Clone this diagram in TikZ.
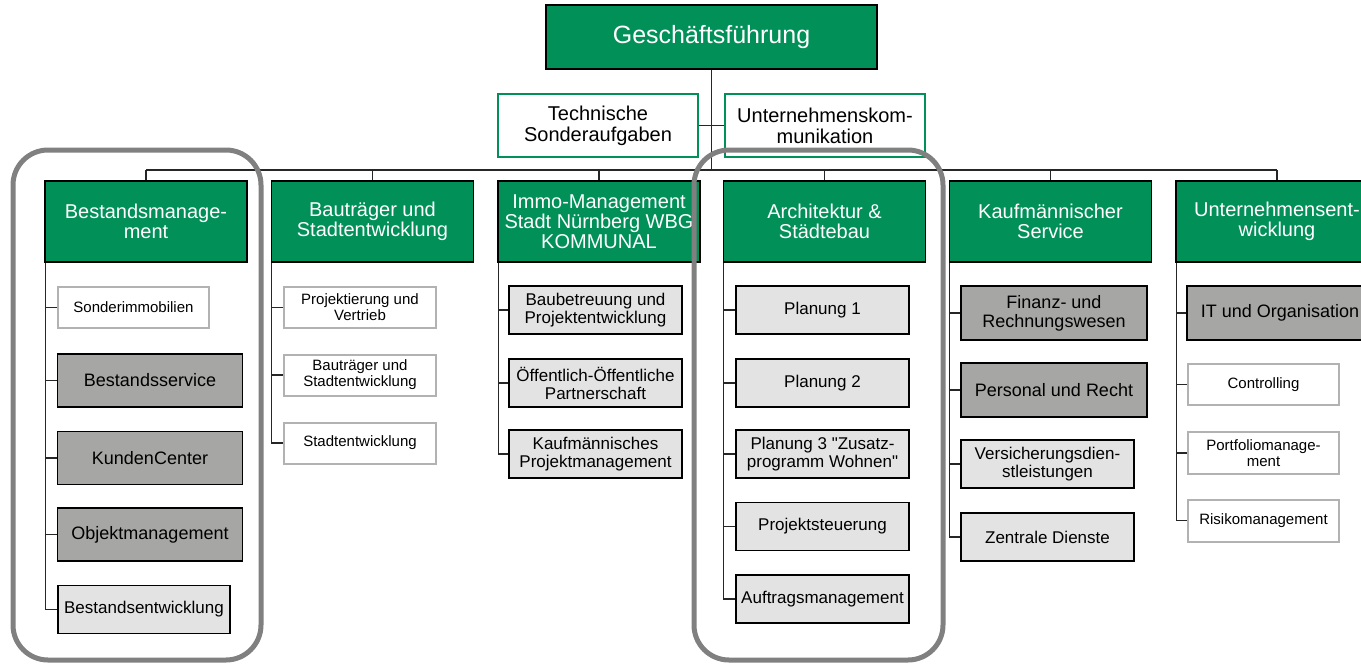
\documentclass[tikz,border=0pt]{standalone}
\usepackage{fontspec}
\setmainfont{Liberation Sans}[Ligatures=TeXOff]
\definecolor{gruen}{RGB}{0,144,88}
\definecolor{dunkelgrau}{RGB}{166,167,164}
\definecolor{hellgrau}{RGB}{227,227,227}
\definecolor{randgrau}{RGB}{178,178,178}
\definecolor{rahmengrau}{RGB}{128,128,128}
\tikzset{
  kasten/.style={draw, inner sep=0pt, align=center},
  chef/.style={kasten, fill=gruen, line width=1.2pt, text=white, minimum width=331, minimum height=64, font=\fontsize{25}{27}\selectfont},
  stab/.style={kasten, fill=white, draw=gruen, line width=1.6pt, minimum width=200, minimum height=63, font=\fontsize{20}{21}\selectfont},
  kopf/.style={kasten, fill=gruen, line width=1.2pt, text=white, minimum width=202, minimum height=81, font=\fontsize{20}{20}\selectfont},
  dunkel/.style={kasten, fill=dunkelgrau, line width=1.2pt, minimum width=185, minimum height=53, font=\fontsize{18}{19}\selectfont},
  hell/.style={kasten, fill=hellgrau, line width=1.2pt, minimum width=173, minimum height=48, font=\fontsize{17}{18}\selectfont},
  weiss/.style={kasten, fill=white, draw=randgrau, line width=2pt, minimum width=151, minimum height=41, font=\fontsize{15}{16}\selectfont},
  linie/.style={line width=1.1pt, black!85},
  rahmen/.style={line width=5pt, draw=rahmengrau, rounded corners=35pt}
}
\begin{document}
\begin{tikzpicture}[x=1pt, y=-1pt]
			%%%%% START %%%%%
			\useasboundingbox (0,0) rectangle (1361,665);
			
			\node[chef] (gf) at (711.5,37) {Geschäftsführung};
			\node[stab] (tech) at (598,125.5) {Technische\\Sonderaufgaben};
			\node[stab] (kom) at (825,125.5) {Unternehmenskom-\\munikation};
			\coordinate (bus) at (0,170);
			
			\node[kopf] (bm) at (146,221.5) {Bestandsmanage-\\ment};
			\node[kopf] (bt) at (372.5,221.5) {Bauträger und\\Stadtentwicklung};
			\node[kopf] (im) at (599,221.5) {Immo-Management\\Stadt Nürnberg WBG\\KOMMUNAL};
			\node[kopf] (ar) at (824.5,221.5) {Architektur \&\\Städtebau};
			\node[kopf] (ks) at (1050.5,221.5) {Kaufmännischer\\Service};
			\node[kopf] (ue) at (1277,221.5) {Unternehmensent-\\wicklung};
			
			% Bestandsmanagement
			\node[weiss] (bm1) at (133.5,307.5) {Sonderimmobilien};
			\node[dunkel] (bm2) at (150,380.5) {Bestandsservice};
			\node[dunkel] (bm3) at (150,458) {KundenCenter};
			\node[dunkel] (bm4) at (150,534.5) {Objektmanagement};
			\node[hell, minimum width=172] (bm5) at (144,609.5) {Bestandsentwicklung};
			
			% Bautraeger
			\node[weiss, minimum width=152] (bt1) at (360,307.5) {Projektierung und\\Vertrieb};
			\node[weiss, minimum width=152] (bt2) at (360,375) {Bauträger und\\Stadtentwicklung};
			\node[weiss, minimum width=152] (bt3) at (360,443) {Stadtentwicklung};
			
			% Immo-Management
			\node[hell] (im1) at (595.5,310) {Baubetreuung und\\Projektentwicklung};
			\node[hell] (im2) at (595.5,383) {Öffentlich-Öffentliche\\Partnerschaft};
			\node[hell] (im3) at (595.5,454) {Kaufmännisches\\Projektmanagement};
			
			% Architektur
			\node[hell] (ar1) at (822.5,310) {Planung 1};
			\node[hell] (ar2) at (822.5,383) {Planung 2};
			\node[hell] (ar3) at (822.5,454) {Planung 3 "Zusatz-\\programm Wohnen"};
			\node[hell] (ar4) at (822.5,526.5) {Projektsteuerung};
			\node[hell] (ar5) at (822.5,599) {Auftragsmanagement};
			
			% Kaufmaennischer Service
			\node[dunkel, minimum width=186, minimum height=54] (ks1) at (1054,313) {Finanz- und\\Rechnungswesen};
			\node[dunkel, minimum width=186, minimum height=54] (ks2) at (1054,390) {Personal und Recht};
			\node[hell] (ks3) at (1047.5,464) {Versicherungsdien-\\stleistungen};
			\node[hell] (ks4) at (1047.5,537) {Zentrale Dienste};
			
			% Unternehmensentwicklung
			\node[dunkel, minimum width=186, minimum height=54] (ue1) at (1280,313) {IT und Organisation};
			\node[weiss] (ue2) at (1263.5,384.5) {Controlling};
			\node[weiss, minimum height=42] (ue3) at (1263.5,453) {Portfoliomanage-\\ment};
			\node[weiss, minimum height=42] (ue4) at (1263.5,520.5) {Risikomanagement};
			
			% Verbindungen
			\draw[linie] (gf.south) -- (gf.south |- bus);
			\draw[linie] (tech.east) -- (kom.west);
			\draw[linie] (bm.north |- bus) -- (ue.north |- bus);
			\foreach \k in {bm,bt,im,ar,ks,ue}
				\draw[linie] (\k.north) -- (\k.north |- bus);
			
			\draw[linie] ([xshift=1pt]bm.south west) |- (bm5.west);
			\foreach \c in {bm1,bm2,bm3,bm4}
				\draw[linie] (\c.west) -- ([xshift=1pt]\c.west -| bm.south west);
			\draw[linie] ([xshift=1pt]bt.south west) |- (bt3.west);
			\foreach \c in {bt1,bt2}
				\draw[linie] (\c.west) -- ([xshift=1pt]\c.west -| bt.south west);
			\draw[linie] ([xshift=1pt]im.south west) |- (im3.west);
			\foreach \c in {im1,im2}
				\draw[linie] (\c.west) -- ([xshift=1pt]\c.west -| im.south west);
			\draw[linie] ([xshift=1pt]ar.south west) |- (ar5.west);
			\foreach \c in {ar1,ar2,ar3,ar4}
				\draw[linie] (\c.west) -- ([xshift=1pt]\c.west -| ar.south west);
			\draw[linie] ([xshift=1pt]ks.south west) |- (ks4.west);
			\foreach \c in {ks1,ks2,ks3}
				\draw[linie] (\c.west) -- ([xshift=1pt]\c.west -| ks.south west);
			\draw[linie] ([xshift=1pt]ue.south west) |- (ue4.west);
			\foreach \c in {ue1,ue2,ue3}
				\draw[linie] (\c.west) -- ([xshift=1pt]\c.west -| ue.south west);
			
			% Hervorhebungen
			\draw[rahmen] (13,150) rectangle (261,660);
			\draw[rahmen] (694,150) rectangle (943,660);
			%%%%% END %%%%%
		\end{tikzpicture}
\end{document}
